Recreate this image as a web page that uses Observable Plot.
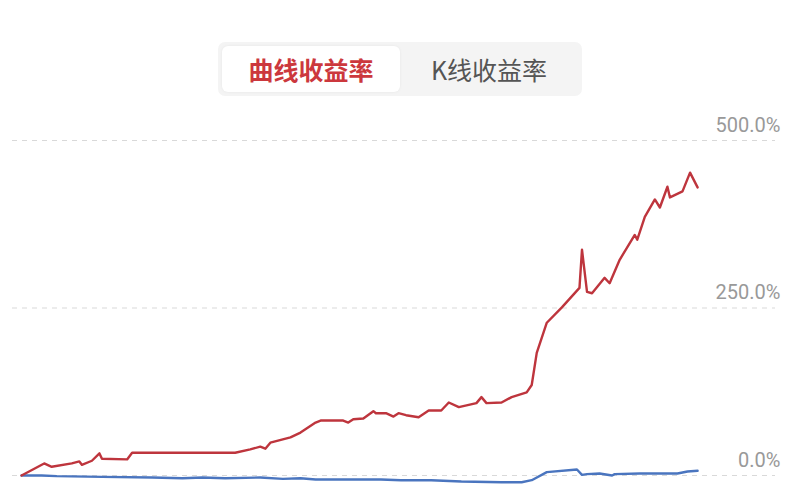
<!DOCTYPE html>
<html>
<head>
<meta charset="utf-8">
<script src="https://cdn.jsdelivr.net/npm/d3@7"></script>
<script src="https://cdn.jsdelivr.net/npm/@observablehq/plot@0.6"></script>
<style>
  html, body { margin: 0; padding: 0; background: #ffffff; }
  #page { width: 800px; height: 500px; position: relative; overflow: hidden; background: #fff; }
  #header { height: 110px; position: relative; }
  #tabs { position: absolute; left: 218px; top: 42px; width: 364px; height: 54px; background: #f4f4f4; border-radius: 7px; box-sizing: border-box; }
  .tab { position: absolute; top: 4px; height: 46px; line-height: 46px; text-align: center; font-family: "Noto Sans CJK SC", sans-serif; font-size: 25px; }
  .tab.active { left: 4px; width: 178px; background: #ffffff; border-radius: 6px; color: #cc383d; font-weight: 700; box-shadow: 0 0 3px rgba(0,0,0,0.06); }
  .tab.inactive { left: 182px; width: 178px; color: #555555; font-weight: 400; }
  #chart svg { display: block; }
</style>
</head>
<body>
<div id="page">
  <div id="header"><div id="tabs"></div></div>
  <div id="chart"></div>
</div>
<script>
const tabLabels = ["曲线收益率", "K线收益率"];
const yTicks = [0, 250, 500];

// Curve return (red), x = trading-day index, value in %
const redDays   = [0, 9, 12, 20, 23, 24, 28, 31, 32, 42, 44, 54, 85, 91, 95, 97, 99, 107, 111, 117, 119, 128, 130, 132, 136, 140, 141, 145, 148, 150, 153, 158, 162, 167, 170, 174, 181, 183, 185, 191, 195, 201, 203, 205, 209, 215, 222, 223, 225, 227, 232, 234, 238, 244, 245, 248, 252, 254, 257, 258, 263, 266, 269];
const redValues = [0, 18, 13, 18, 21, 16, 22, 33, 25, 24, 34, 34, 34, 39, 43, 40, 49, 57, 64, 79, 82, 82, 79, 84, 85, 96, 93, 93, 88, 93, 90, 87, 97, 97, 109, 102, 108, 117, 108, 109, 117, 124, 135, 183, 228, 251, 280, 337, 274, 272, 295, 287, 322, 359, 352, 386, 412, 400, 431, 415, 424, 452, 430];

// K-line return (blue)
const blueDays   = [0, 8, 14, 32, 52, 64, 72, 81, 95, 104, 111, 117, 129, 143, 151, 163, 175, 191, 199, 203, 209, 221, 223, 225, 230, 235, 236, 246, 254, 261, 265, 269];
const blueValues = [0, 0, -1, -2, -3, -4, -3, -4, -3, -5, -4, -6, -6, -6, -7, -7, -9, -10, -10, -7, 5, 9, 1, 2, 3, 0, 2, 3, 3, 3, 6, 7];

// tabs
const tabs = document.getElementById("tabs");
tabLabels.forEach((t, i) => {
  const d = document.createElement("div");
  d.className = "tab " + (i === 0 ? "active" : "inactive");
  d.textContent = t;
  tabs.appendChild(d);
});

const red = redDays.map((d, i) => ({day: d, value: redValues[i]}));
const blue = blueDays.map((d, i) => ({day: d, value: blueValues[i]}));

const chart = Plot.plot({
  width: 800,
  height: 390,
  marginLeft: 12,
  marginRight: 25,
  marginTop: 30,
  marginBottom: 25,
  style: {fontFamily: "Roboto, 'Noto Sans CJK SC', sans-serif", background: "#fff"},
  x: {domain: [-3.6, 300], axis: null},
  y: {domain: [0, 500], axis: null, label: null},
  marks: [
    Plot.ruleY(yTicks, {stroke: "#d9d9d9", strokeWidth: 1, strokeDasharray: "5,5"}),
    Plot.axisY(yTicks, {
      anchor: "right", tickSize: 0, tickPadding: 0, textAnchor: "end",
      dx: 5, dy: -15, fontSize: 20, fill: "#999999", label: null,
      tickFormat: d => d.toFixed(1) + "%"
    }),
    Plot.line(blue, {x: "day", y: "value", stroke: "#4a75bf", strokeWidth: 2.4, curve: "linear"}),
    Plot.line(red, {x: "day", y: "value", stroke: "#be353d", strokeWidth: 2.4, curve: "linear"})
  ]
});
document.getElementById("chart").appendChild(chart);
</script>
</body>
</html>
